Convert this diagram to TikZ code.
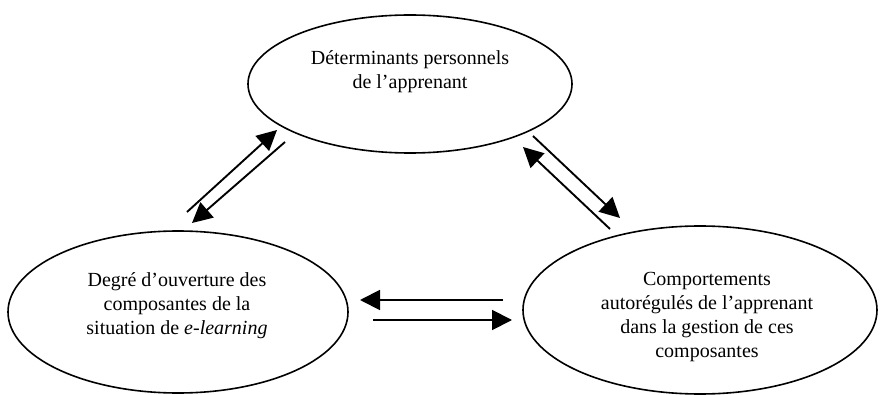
\documentclass[tikz,border=0pt]{standalone}
\usepackage{fontspec}
\setmainfont{Liberation Serif}
\usetikzlibrary{shapes.geometric,arrows.meta}
\begin{document}
\begin{tikzpicture}[x=1pt,y=-1pt,
  blob/.style={draw,ellipse,line width=1.6pt,inner sep=0pt},
  txt/.style={inner sep=0pt,align=center,font=\fontsize{20}{24}\selectfont},
  arr/.style={line width=1.9pt,-{Triangle[length=20pt,width=20pt]}},
  bar/.style={line width=1.9pt}]
  \useasboundingbox (0,0) rectangle (880,395);

  % the three components
  \node[blob,minimum width=324pt,minimum height=138pt] (pers) at (410,84) {};
  \node[blob,minimum width=340pt,minimum height=162pt] (ouv) at (178,312) {};
  \node[blob,minimum width=354pt,minimum height=168pt] (comp) at (700,310) {};

  \node[txt] (perst) at (410,72) {Déterminants personnels\\de l’apprenant};
  \node[txt] (ouvt) at (177,306) {Degré d’ouverture des\\composantes de la\\situation de \textit{e-learning}};
  \node[txt] (compt) at (707,317) {Comportements\\autorégulés de l’apprenant\\dans la gestion de ces\\composantes};

  % arrow ends
  \coordinate (a1) at (187,212); \coordinate (a2) at (277,130);
  \coordinate (b1) at (285,142); \coordinate (b2) at (192,223);
  \coordinate (c1) at (610,229); \coordinate (c2) at (523,147);
  \coordinate (d1) at (533,136); \coordinate (d2) at (620,218);
  \coordinate (e1) at (503,300); \coordinate (e2) at (360,300);
  \coordinate (f1) at (373,320); \coordinate (f2) at (512,320);

  % reciprocal influences
  \draw[arr] (a1) -- (a2);
  \draw[arr] (b1) -- (b2);
  \draw[arr] (c1) -- (c2);
  \draw[arr] (d1) -- (d2);
  \draw[arr] (e1) -- (e2);
  \draw[arr] (f1) -- (f2);
\end{tikzpicture}
\end{document}
